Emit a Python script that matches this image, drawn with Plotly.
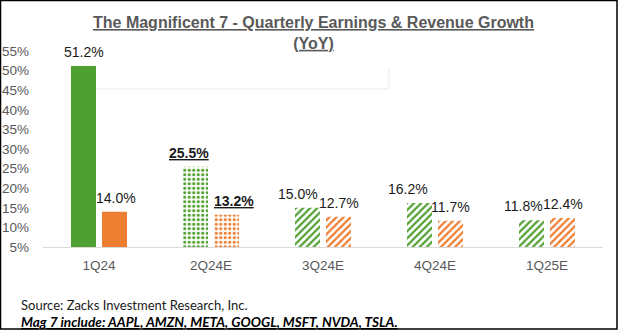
import plotly.graph_objects as go

categories = ["1Q24", "2Q24E", "3Q24E", "4Q24E", "1Q25E"]
earnings_growth = [51.2, 25.5, 15.0, 16.2, 11.8]
revenue_growth = [14.0, 13.2, 12.7, 11.7, 12.4]
y_ticks = [5, 10, 15, 20, 25, 30, 35, 40, 45, 50, 55]

GREEN = "#50A031"
ORANGE = "#ED7D31"
shapes_pat = ["", ".", "/", "/", "/"]

W, H = 620, 330
L, R, T, B = 43, 17, 51, 83
PW, PH = W - L - R, H - T - B


def px(x):
    return (x - L) / PW


def py(y):
    return (H - B - y) / PH


fig = go.Figure()
for vals, col in [(earnings_growth, GREEN), (revenue_growth, ORANGE)]:
    fig.add_trace(go.Bar(
        x=categories, y=vals,
        marker=dict(
            color=col, line=dict(width=0),
            pattern=dict(shape=shapes_pat, fgcolor=col, bgcolor="white",
                         size=[6, 4.5, 5, 5, 5], solidity=[0.5, 0.4, 0.45, 0.45, 0.45],
                         fillmode="replace"),
        ),
        hoverinfo="skip", showlegend=False,
    ))

# label nudges (pixel offsets) from the reference placement
g_nudge = [0, -7, -10, -12, -8]
o_nudge = [1, 7, 0, 0, 0]
annotations = []
for i, c in enumerate(categories):
    for vals, base, nud in [(earnings_growth, -15.5, g_nudge), (revenue_growth, 15.5, o_nudge)]:
        t = f"{vals[i]:.1f}%"
        if i == 1:
            t = f"<b><u>{t}</u></b>"
        annotations.append(dict(
            x=c, y=vals[i], xref="x", yref="y", text=t, showarrow=False,
            xshift=base + nud[i], yshift=4, yanchor="bottom",
            font=dict(family="Liberation Sans, Arial", size=14, color="#1a1a1a"),
        ))

annotations.append(dict(
    x=px(313), y=py(33), xref="paper", yref="paper", xanchor="center", yanchor="middle",
    text="<b><u>The Magnificent 7 - Quarterly Earnings & Revenue Growth</u></b><br><b><u>(YoY)</u></b>",
    showarrow=False,
    font=dict(family="Liberation Sans, Arial", size=16, color="#595959"),
))
annotations.append(dict(
    x=px(19), y=py(305), xref="paper", yref="paper", xanchor="left", yanchor="middle",
    text="Source: Zacks Investment Research, Inc.", showarrow=False,
    font=dict(family="Lato", size=13, color="#1a1a1a"),
))
annotations.append(dict(
    x=px(19), y=py(322), xref="paper", yref="paper", xanchor="left", yanchor="middle",
    text="<b><i><u>Mag 7 include: AAPL, AMZN, META, GOOGL, MSFT, NVDA, TSLA.</u></i></b>",
    showarrow=False,
    font=dict(family="Lato", size=13.6, color="#000000"),
))

shapes = [
    dict(type="rect", xref="paper", yref="paper", x0=px(0.5), y0=py(0.5), x1=px(617), y1=py(329),
         line=dict(color="black", width=1.5), fillcolor="rgba(0,0,0,0)", layer="above"),
    dict(type="line", xref="paper", yref="paper", x0=px(85), y0=py(89), x1=px(389), y1=py(89),
         line=dict(color="#EBEBEB", width=1), layer="below"),
    dict(type="line", xref="paper", yref="paper", x0=px(389), y0=py(68), x1=px(389), y1=py(89),
         line=dict(color="#EBEBEB", width=1), layer="below"),
]

fig.update_layout(
    width=W, height=H,
    margin=dict(l=L, r=R, t=T, b=B, autoexpand=False),
    paper_bgcolor="white", plot_bgcolor="white",
    barmode="group", bargap=0.446, bargroupgap=0.194,
    xaxis=dict(
        showgrid=False, showline=True, linecolor="#D9D9D9", linewidth=1,
        ticks="", tickfont=dict(family="Liberation Sans, Arial", size=13.5, color="#595959"),
        ticklabelstandoff=6, automargin=False,
    ),
    yaxis=dict(
        range=[5, 55], tickvals=y_ticks, ticktext=[f"{v}%" for v in y_ticks],
        showgrid=False, zeroline=False, showline=False, ticks="",
        tickfont=dict(family="Liberation Sans, Arial", size=13.5, color="#595959"),
        ticklabelstandoff=13, automargin=False,
    ),
    annotations=annotations,
    shapes=shapes,
)

fig.write_html("out.html")
